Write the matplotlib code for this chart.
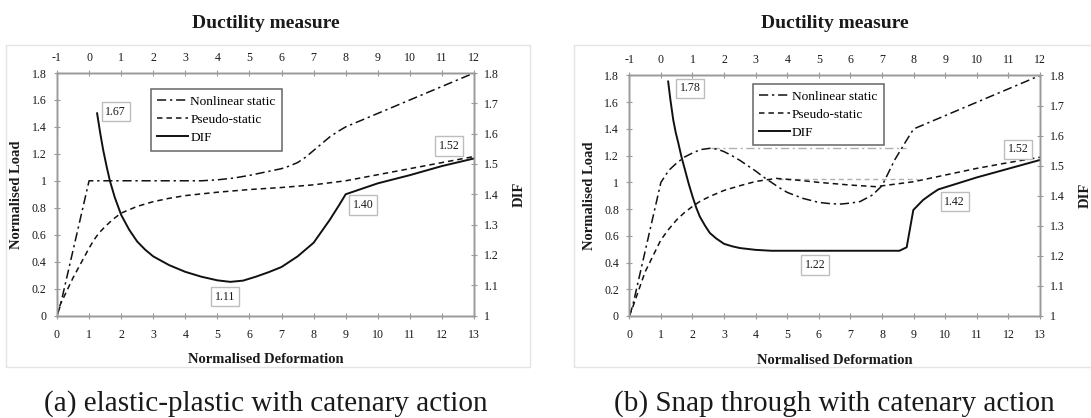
import matplotlib
matplotlib.use("Agg")
import matplotlib.pyplot as plt
from matplotlib.patches import Rectangle

plt.rcParams['font.family'] = ['Liberation Serif', 'DejaVu Serif']
plt.rcParams['axes.unicode_minus'] = False

# ---- data: (a) elastic-plastic with catenary action
a_nl_x = [0, 0.1, 1.0, 2, 3, 4, 4.5, 5.0, 5.5, 6.0, 6.5, 7.0, 7.25, 7.5, 7.75, 8.0, 8.25, 8.5, 8.75, 9.0, 10, 11, 12, 13]
a_nl_y = [0, 0.07, 1.0, 1.0, 1.0, 1.0, 1.0, 1.007, 1.02, 1.04, 1.065, 1.09, 1.11, 1.135, 1.175, 1.225, 1.275, 1.325, 1.365, 1.40, 1.50, 1.60, 1.70, 1.80]
a_ps_x = [0, 0.1, 0.5, 1.0, 1.15, 1.3, 1.5, 1.75, 2, 2.5, 3, 3.5, 4, 5, 6, 7, 8, 9, 10, 11, 12, 13]
a_ps_y = [0, 0.08, 0.28, 0.50, 0.56, 0.61, 0.66, 0.715, 0.76, 0.81, 0.845, 0.87, 0.89, 0.915, 0.935, 0.95, 0.97, 1.0, 1.045, 1.09, 1.135, 1.18]
a_dif_x = [1.25, 1.35, 1.44, 1.55, 1.65, 1.8, 2.0, 2.25, 2.5, 2.75, 3.0, 3.5, 4.0, 4.5, 5.0, 5.4, 5.8, 6.2, 6.6, 7.0, 7.5, 8.0, 8.5, 8.8, 9.0, 10, 11, 12, 13]
a_dif_y = [1.667, 1.60, 1.546, 1.49, 1.444, 1.39, 1.332, 1.283, 1.244, 1.217, 1.195, 1.166, 1.144, 1.128, 1.116, 1.111, 1.115, 1.128, 1.143, 1.16, 1.195, 1.24, 1.315, 1.365, 1.40, 1.436, 1.463, 1.493, 1.518]
a_labels = ["1.67", "1.11", "1.40", "1.52"]

# ---- data: (b) snap through with catenary action
b_nl_x = [0, 0.1, 1.0, 1.25, 1.5, 1.75, 2.0, 2.25, 2.55, 2.8, 3.0, 3.25, 3.5, 3.75, 4.0, 4.25, 4.5, 4.75, 5.0, 5.5, 6.0, 6.4, 6.7, 7.0, 7.3, 7.7, 8.0, 8.4, 8.78, 9.0, 10, 11, 12, 13]
b_nl_y = [0, 0.07, 1.0, 1.09, 1.145, 1.19, 1.22, 1.245, 1.255, 1.248, 1.23, 1.2, 1.165, 1.125, 1.085, 1.04, 1.0, 0.96, 0.925, 0.88, 0.85, 0.84, 0.838, 0.845, 0.856, 0.906, 0.975, 1.168, 1.317, 1.40, 1.50, 1.60, 1.70, 1.80]
b_ps_x = [0, 0.1, 0.5, 1.0, 1.25, 1.5, 1.75, 2.0, 2.25, 2.55, 3.0, 3.5, 4.0, 4.65, 5.4, 6.0, 7.0, 7.8, 9, 10, 11, 12, 13]
b_ps_y = [0, 0.06, 0.33, 0.57, 0.65, 0.72, 0.775, 0.82, 0.86, 0.895, 0.94, 0.975, 1.007, 1.03, 1.015, 1.0, 0.98, 0.968, 1.005, 1.055, 1.105, 1.148, 1.188]
b_dif_x = [1.23, 1.3, 1.39, 1.47, 1.55, 1.65, 1.76, 1.88, 2.0, 2.12, 2.23, 2.4, 2.55, 2.75, 3.0, 3.25, 3.5, 4.0, 4.5, 8.55, 8.78, 8.99, 9.3, 9.55, 9.78, 11, 12, 13]
b_dif_y = [1.78, 1.72, 1.653, 1.61, 1.576, 1.53, 1.487, 1.44, 1.398, 1.36, 1.331, 1.30, 1.276, 1.258, 1.24, 1.232, 1.226, 1.22, 1.217, 1.217, 1.2285, 1.3526, 1.386, 1.405, 1.421, 1.461, 1.49, 1.519]
b_peak_nl = 1.255
b_peak_ps = 1.025
b_labels = ["1.78", "1.22", "1.42", "1.52"]

series_names = ["Nonlinear static", "Pseudo-static", "DIF"]
captions = ["(a) elastic-plastic with catenary action", "(b) Snap through with catenary action"]

W, H = 1091, 418
fig = plt.figure(figsize=(W / 100, H / 100), dpi=100)


def px(x0, y0, x1, y1):
    return [x0 / W, 1 - y1 / H, (x1 - x0) / W, (y1 - y0) / H]


DASHDOT = (0, (6, 2.5, 1.5, 2.5))
DASHED = (0, (3.6, 2.6))
GRAY = '#9a9a9a'
TXT = '#1a1a1a'


def panel(rect, nl, ps, dif, labels, label_pos, leg_anchor):
    ax = fig.add_axes(rect)
    axr = ax.twinx()
    axt = ax.twiny()

    ax.set_xlim(0, 13)
    ax.set_ylim(0, 1.8)
    axr.set_ylim(1, 1.8)
    axt.set_xlim(-1, 12)

    ax.set_xticks(range(0, 14))
    ax.set_xticklabels([str(i) for i in range(0, 14)])
    ax.set_yticks([i * 0.2 for i in range(10)])
    ax.set_yticklabels(["0", "0.2", "0.4", "0.6", "0.8", "1", "1.2", "1.4", "1.6", "1.8"])
    axr.set_yticks([1 + i * 0.1 for i in range(9)])
    axr.set_yticklabels(["1", "1.1", "1.2", "1.3", "1.4", "1.5", "1.6", "1.7", "1.8"])
    axt.set_xticks(range(-1, 13))
    axt.set_xticklabels([str(i) for i in range(-1, 13)])

    for a in (ax, axr, axt):
        for s in a.spines.values():
            s.set_color(GRAY)
            s.set_linewidth(1.0)
        a.tick_params(direction='inout', length=5, width=0.8, color=GRAY,
                      labelsize=8.6, labelcolor=TXT, pad=5)
    ax.tick_params(axis='x', pad=7)
    axt.tick_params(axis='x', pad=4)

    l1, = ax.plot(nl[0], nl[1], color='#111111', lw=1.1, linestyle=DASHDOT)
    l2, = ax.plot(ps[0], ps[1], color='#111111', lw=1.1, linestyle=DASHED)
    l3, = axr.plot(dif[0], dif[1], color='#111111', lw=1.4)

    ax.set_xlabel("Normalised Deformation", fontsize=10.5, fontweight='bold', color=TXT, labelpad=9)
    ax.set_ylabel("Normalised Load", fontsize=10.5, fontweight='bold', color=TXT, labelpad=6)
    axr.set_ylabel("DIF", fontsize=10.5, fontweight='bold', color=TXT, labelpad=10)

    for t, (x, y) in zip(labels, label_pos):
        axt.text(x, y, t, transform=ax.transData, ha='center', va='center', fontsize=8.6, color=TXT,
                 bbox=dict(boxstyle='square,pad=0.3', fc='white', ec='#bdbdbd', lw=1.0), zorder=5)

    leg = axt.legend([l1, l2, l3], series_names, loc='upper left', bbox_to_anchor=leg_anchor,
                     bbox_transform=ax.transAxes, fontsize=9.6, frameon=True, fancybox=False,
                     handlelength=2.3, handletextpad=0.15, labelspacing=0.42, borderpad=0.5,
                     borderaxespad=0)
    leg.get_frame().set_edgecolor('#404040')
    leg.get_frame().set_linewidth(1.1)
    return ax


ax_a = panel(px(57, 73, 474, 315.5), (a_nl_x, a_nl_y), (a_ps_x, a_ps_y), (a_dif_x, a_dif_y),
             a_labels, [(1.83, 1.513), (5.24, 0.14), (9.55, 0.82), (12.23, 1.258)], (0.225, 0.934))
ax_b = panel(px(629.3, 75.5, 1040, 316), (b_nl_x, b_nl_y), (b_ps_x, b_ps_y), (b_dif_x, b_dif_y),
             b_labels, [(1.92, 1.704), (5.88, 0.382), (10.3, 0.855), (12.31, 1.248)], (0.30, 0.965))

# light grey reference lines at the peaks of panel (b)
ax_b.plot([2.6, 8.75], [b_peak_nl, b_peak_nl], color='#b0b0b0', lw=1.0, linestyle=DASHDOT, zorder=1)
ax_b.plot([4.7, 9.15], [b_peak_ps, b_peak_ps], color='#b0b0b0', lw=1.0, linestyle=DASHED, zorder=1)

# chart-area frames
for x0, x1 in ((6, 530), (574, 1095)):
    fig.add_artist(Rectangle((x0 / W, 1 - 367 / H), (x1 - x0) / W, (367 - 45) / H,
                             transform=fig.transFigure, fill=False, ec='#e4e4e4', lw=1.0))

for cx, cap in zip((265.5, 834.5), captions):
    fig.text(cx / W, 1 - 23 / H, "Ductility measure", ha='center', va='center',
             fontsize=14, fontweight='bold', color=TXT)
    fig.text(cx / W, 1 - 404 / H, cap, ha='center', va='center', fontsize=21, color=TXT)

fig.savefig("out.png", dpi=100)
